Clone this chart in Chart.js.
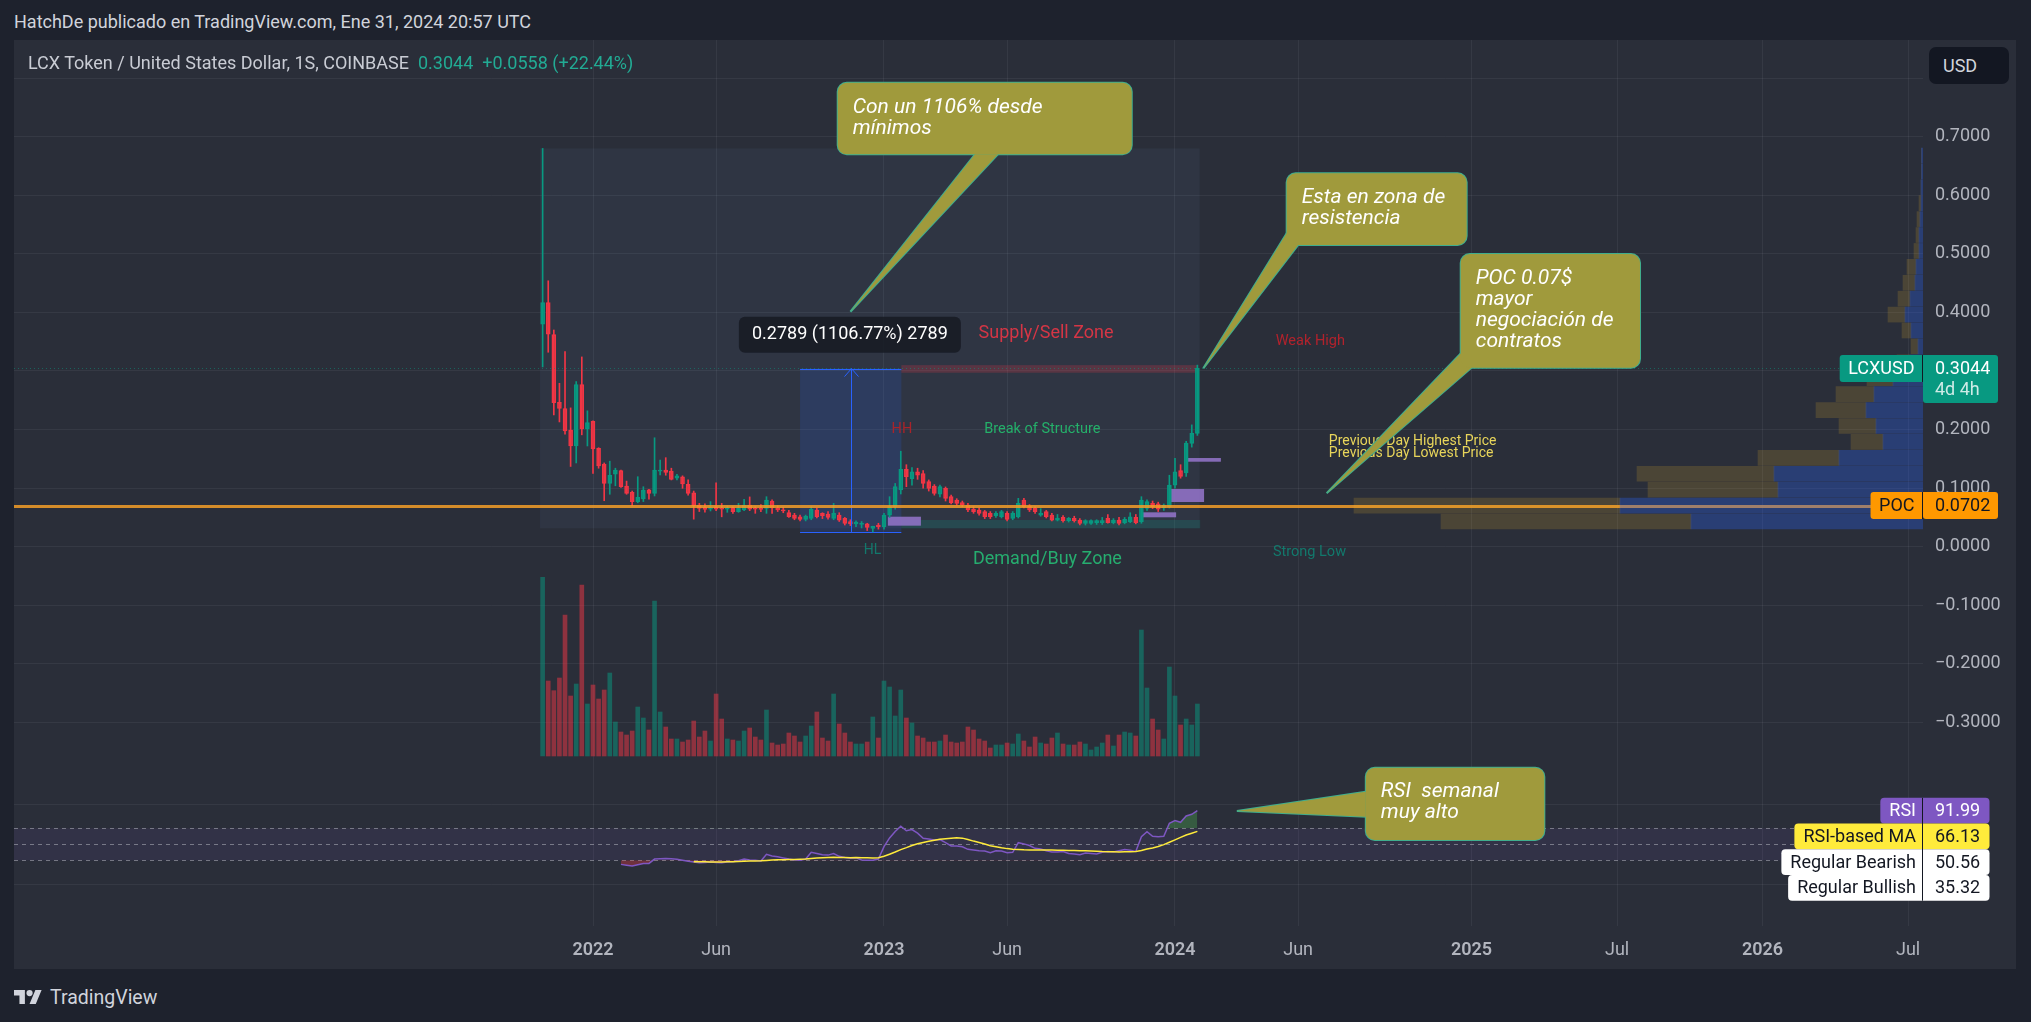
<!DOCTYPE html>
<html>
<head>
<meta charset="utf-8">
<title>LCXUSD 1S</title>
<script src="https://cdn.jsdelivr.net/npm/chart.js@4.4.1/dist/chart.umd.min.js"></script>
<style>
  html, body { margin: 0; padding: 0; }
  body { width: 2031px; height: 1022px; background: #1e222d; font-family: Roboto, sans-serif; position: relative; overflow: hidden; }
  .header { position: absolute; left: 14px; top: 10px; font-size: 18px; line-height: 24px; color: #d1d4dc; }
  .panel { position: absolute; left: 14px; top: 40px; width: 2002px; height: 929px; background: #2a2e39; }
  .panel canvas { position: absolute; left: 0; top: 0; }
  .legend { position: absolute; left: 14px; top: 11px; font-size: 18px; line-height: 24px; color: #c9ccd4; white-space: nowrap; }
  .legend .val { color: #22ab94; margin-left: 9px; }
  .usd { position: absolute; left: 1915px; top: 7px; width: 80px; height: 37px; box-sizing: border-box; padding-left: 14px;
         background: #131722; border-radius: 7px; color: #d1d4dc; font-size: 18px; line-height: 37px; }
  .footer { position: absolute; left: 14px; top: 985px; height: 24px; display: flex; align-items: center; color: #d1d4dc; font-size: 19.5px; }
  .footer svg { margin-right: 8px; }
</style>
</head>
<body>
<div class="header">HatchDe publicado en TradingView.com, Ene 31, 2024 20:57 UTC</div>
<div class="panel">
  <canvas id="chart" width="2002" height="929"></canvas>
  <canvas id="profile" width="2002" height="929"></canvas>
  <div class="legend"><span>LCX Token / United States Dollar, 1S, COINBASE</span><span class="val">0.3044</span><span class="val">+0.0558 (+22.44%)</span></div>
  <div class="usd">USD</div>
</div>
<div class="footer">
  <svg width="28" height="14" viewBox="0 4 36 18"><path fill="#d1d4dc" d="M14 22H7V11H0V4h14v18zM28 22h-8l7.5-18h8L28 22z"/><circle fill="#d1d4dc" cx="20" cy="8" r="4"/></svg>
  <span>TradingView</span>
</div>
<script>
// weekly candles, week index 0 = week of 3 Jan 2022
const firstWeek = -9;
const opens = [0.380,0.417,0.362,0.2465,0.236,0.199,0.172,0.277,0.201,
  0.214,0.168,0.141,0.108,0.124,0.130,0.1036,0.093,0.077,0.0814,
  0.097,0.091,0.129,0.131,0.129,0.117,0.1195,0.1065,0.092,0.071,
  0.0673,0.064,0.068,0.0655,0.064,0.0666,0.0598,0.0627,0.071,0.066,
  0.066,0.0655,0.078,0.066,0.063,0.0581,0.054,0.0512,0.0467,0.0484,
  0.0627,0.0570,0.0558,0.0484,0.054,0.0484,0.0427,0.0387,0.0380,0.039,
  0.031,0.037,0.0342,0.054,0.0683,0.0968,0.132,0.116,0.128,0.125,
  0.111,0.1036,0.0895,0.0997,0.0854,0.0797,0.0752,0.0712,0.0644,0.0627,
  0.0598,0.057,0.0524,0.0512,0.057,0.0484,0.0512,0.0797,0.0695,0.0655,
  0.0540,0.0598,0.054,0.0455,0.050,0.0444,0.0484,0.0455,0.0399,0.0399,
  0.041,0.0410,0.0484,0.041,0.0455,0.041,0.0427,0.050,0.0427,0.0655,
  0.074,0.073,0.066,0.068,0.105,0.130,0.126,0.1765,0.1935];
const highs = [0.680,0.454,0.370,0.279,0.333,0.237,0.282,0.324,0.232,
  0.215,0.169,0.143,0.146,0.134,0.131,0.112,0.095,0.1195,0.1024,
  0.098,0.186,0.148,0.152,0.134,0.1236,0.121,0.114,0.095,0.074,
  0.0734,0.077,0.109,0.074,0.0695,0.068,0.074,0.081,0.085,0.068,
  0.072,0.0854,0.080,0.070,0.067,0.062,0.057,0.054,0.054,0.0683,
  0.066,0.058,0.060,0.074,0.058,0.050,0.046,0.044,0.043,0.040,
  0.035,0.040,0.057,0.0854,0.108,0.163,0.140,0.135,0.134,0.130,
  0.114,0.106,0.105,0.102,0.088,0.082,0.078,0.074,0.068,0.066,
  0.062,0.060,0.060,0.062,0.060,0.060,0.0826,0.0826,0.072,0.068,
  0.065,0.062,0.057,0.055,0.053,0.050,0.052,0.048,0.046,0.046,
  0.046,0.050,0.055,0.048,0.050,0.050,0.058,0.055,0.0854,0.080,
  0.078,0.076,0.073,0.122,0.151,0.140,0.180,0.208,0.310];
const lows = [0.307,0.332,0.225,0.213,0.192,0.137,0.143,0.191,0.172,
  0.125,0.134,0.0785,0.0895,0.104,0.101,0.0895,0.070,0.075,0.077,
  0.081,0.0866,0.1224,0.122,0.114,0.114,0.0997,0.088,0.047,0.060,
  0.0588,0.061,0.0615,0.051,0.0587,0.057,0.0587,0.0615,0.0615,0.057,
  0.060,0.057,0.057,0.060,0.058,0.050,0.046,0.044,0.044,0.046,
  0.049,0.048,0.047,0.046,0.043,0.037,0.036,0.034,0.032,0.0275,
  0.0252,0.030,0.030,0.050,0.064,0.090,0.1025,0.105,0.115,0.100,
  0.095,0.088,0.085,0.078,0.073,0.071,0.068,0.060,0.057,0.054,
  0.048,0.048,0.050,0.049,0.044,0.046,0.049,0.066,0.060,0.057,
  0.052,0.049,0.044,0.044,0.042,0.042,0.042,0.037,0.037,0.038,
  0.038,0.038,0.040,0.039,0.037,0.039,0.041,0.039,0.040,0.062,
  0.065,0.060,0.062,0.066,0.100,0.117,0.120,0.170,0.190];
const closes = [0.417,0.363,0.246,0.236,0.1975,0.172,0.277,0.201,0.212,
  0.167,0.138,0.108,0.122,0.131,0.1025,0.091,0.077,0.0843,0.0968,
  0.091,0.131,0.131,0.127,0.115,0.121,0.107,0.091,0.0695,0.0655,
  0.0638,0.067,0.064,0.064,0.066,0.0598,0.0655,0.071,0.064,0.064,
  0.0635,0.0797,0.066,0.063,0.061,0.0512,0.0484,0.0467,0.0524,0.0638,
  0.0512,0.0530,0.050,0.057,0.0455,0.0399,0.0387,0.0420,0.0400,0.0330,
  0.0347,0.0342,0.054,0.0683,0.1025,0.132,0.1195,0.128,0.122,0.108,
  0.0997,0.091,0.1025,0.0826,0.0752,0.074,0.0712,0.0627,0.0598,0.057,
  0.0512,0.0512,0.057,0.0598,0.0467,0.057,0.074,0.0683,0.0627,0.0598,
  0.0570,0.0512,0.0455,0.0490,0.0444,0.0484,0.0444,0.0399,0.0444,0.0444,
  0.0444,0.0445,0.041,0.0455,0.0399,0.0467,0.0512,0.041,0.0797,0.0769,
  0.068,0.064,0.071,0.105,0.128,0.120,0.177,0.1935,0.3044];
// volume, millions of LCX
const volumes = [5.36,2.25,1.96,2.34,4.23,1.80,2.16,5.13,1.56,
  2.13,1.71,1.98,2.49,1.02,0.72,0.63,0.75,1.47,1.14,
  0.78,4.65,1.32,0.87,0.51,0.51,0.42,0.48,1.05,0.57,
  0.75,0.45,1.86,1.11,0.51,0.48,0.45,0.75,0.84,0.57,
  0.48,1.38,0.39,0.33,0.36,0.69,0.60,0.42,0.60,0.90,
  1.32,0.54,0.45,1.86,0.96,0.69,0.42,0.36,0.36,0.42,
  1.17,0.54,2.25,2.07,1.20,1.98,1.14,0.99,0.60,0.54,
  0.42,0.42,0.45,0.63,0.42,0.39,0.42,0.87,0.78,0.51,
  0.45,0.24,0.33,0.33,0.39,0.36,0.66,0.45,0.27,0.57,
  0.39,0.36,0.54,0.69,0.36,0.33,0.33,0.42,0.36,0.18,
  0.27,0.39,0.63,0.30,0.63,0.72,0.69,0.60,3.78,2.04,
  1.11,0.78,0.51,2.67,1.80,0.93,1.11,0.93,1.56];
// RSI 14 (weekly) and its SMA 14
const rsiStart = 5;
const rsiValues = [24.9,23.8,22.8,24.5,26.1,26.1,31.5,32.0,32.4,31.8,
  31.2,30.0,28.8,28.0,27.0,27.2,27.8,27.3,27.0,28.0,
  28.3,29.5,31.5,30.5,30.0,29.0,37.5,35.5,34.5,33.0,
  31.5,30.5,30.0,31.5,40.0,38.5,37.0,36.5,38.5,35.0,
  33.5,32.5,33.0,30.5,30.0,30.0,31.5,47.0,58.0,66.0,
  72.7,66.9,68.5,64.0,57.5,56.5,55.4,56.0,52.0,47.9,
  48.0,47.0,43.7,43.0,42.0,41.5,39.6,42.0,41.5,39.5,
  40.0,52.0,50.5,48.5,45.0,44.0,42.0,40.5,40.5,41.0,
  38.5,38.0,37.0,39.0,38.5,38.0,40.0,41.0,40.5,42.0,
  43.5,42.5,41.0,59.6,65.8,60.0,59.5,60.0,76.3,79.6,
  77.5,85.4,87.5,91.99];
const rsiMaStart = 18;
const rsiMaValues = [28.3,28.2,28.1,28.0,28.0,28.0,28.1,28.3,28.5,28.7,
  29.0,29.2,29.3,29.9,30.3,30.6,30.8,31.0,31.1,31.3,
  31.6,32.3,32.8,33.2,33.5,33.8,33.6,33.4,33.3,33.4,
  33.2,33.1,33.0,33.2,35.0,37.6,40.3,43.3,45.8,48.5,
  50.6,52.3,53.7,55.0,56.2,57.0,57.6,58.3,57.7,56.0,
  54.0,52.2,50.4,48.3,47.0,45.6,44.6,43.8,43.4,43.1,
  43.0,42.9,42.9,42.9,42.8,42.7,42.5,42.3,42.1,42.0,
  41.8,41.5,41.2,40.9,40.8,40.6,40.5,40.6,40.7,40.9,
  42.2,44.0,45.5,47.3,49.6,52.6,55.6,58.6,61.6,63.8,
  66.13];
const rsiLabels = ['RSI', 'RSI-based MA', 'Regular Bearish', 'Regular Bullish'];
const rsiLabelValues = [91.99, 66.13, 50.56, 35.32];
// visible range volume profile, 24 rows
const profileLow = 0.0295;
const profileStep = 0.02717;
const profileUp = [23.2,30.3,14.5,14.9,8.4,4.0,4.7,5.7,4.9,3.0,1.3,0.5,1.2,1.8,1.3,0.8,0.7,0.4,0.4,0.3,0.2,0.2,0.15,0.15];
const profileDown = [25.0,26.6,13.0,13.7,8.1,3.2,3.7,5.0,3.8,2.6,1.3,0.7,0.9,1.7,1.2,1.2,0.9,0.5,0.3,0.3,0.2,0,0,0];
const pocPrice = 0.0702;
// axes
const tickWeeks = [0, 22, 52, 74, 104, 126, 157, 183, 209, 235];
const tickLabels = ['2022', 'Jun', '2023', 'Jun', '2024', 'Jun', '2025', 'Jul', '2026', 'Jul'];
const priceTicks = [-0.3, -0.2, -0.1, 0, 0.1, 0.2, 0.3, 0.4, 0.5, 0.6, 0.7, 0.8];

// ---- layout (pixels inside the panel) ----
const W = 2002, H = 929, AXIS_W = 93, AXIS_H = 43;
const PLOT_W = W - AXIS_W, PLOT_H = H - AXIS_H;
const WEEK_PX = 5.596, WEEK0_X = 579;
const xMin = -WEEK0_X / WEEK_PX, xMax = (PLOT_W - WEEK0_X) / WEEK_PX;
const PRICE0_Y = 506.7, PRICE_PX = 585.7;
const yMin = (PRICE0_Y - PLOT_H) / PRICE_PX, yMax = PRICE0_Y / PRICE_PX;
const VOL0_Y = 716, VOL_PX = 33.33;
const volMin = -(PLOT_H - VOL0_Y) / VOL_PX, volMax = VOL0_Y / VOL_PX;
const RSI50_Y = 804.3, RSI_PX = 0.8;
const rsiMin = 50 - (PLOT_H - RSI50_Y) / RSI_PX, rsiMax = 50 + RSI50_Y / RSI_PX;

const UP = '#089981', DOWN = '#f23645';
const gridColor = 'rgba(240,243,250,0.06)';
const lastClose = closes[closes.length - 1];

// ---- drawings, in chart coordinates (week, price) ----
const rangeBox = { w: [-9.47, 108.4], p: [0.0314, 0.68] };
const measure = { w: [37, 55.1], p: [0.0252, 0.3041], mid: 46.05, label: '0.2789 (1106.77%) 2789', at: [45.9, 0.362] };
const supply = { w: [55.1, 108.1], p: [0.297, 0.310] };
const demand = { w: [55.1, 108.5], p: [0.0314, 0.0456] };
const orderBlocks = [[52.7, 58.6, 0.0359, 0.0512], [98.2, 104.2, 0.0502, 0.0587], [103.2, 109.2, 0.0763, 0.0985], [106.1, 112.2, 0.1451, 0.1514]];
const notes = [
  { t: 'Supply/Sell Zone', w: 68.9, p: 0.3643, size: 18, color: 'rgba(242,54,69,0.85)' },
  { t: 'Demand/Buy Zone', w: 67.9, p: -0.0215, size: 18, color: '#26ad6f' },
  { t: 'Break of Structure', w: 69.9, p: 0.201, size: 14.5, color: '#25b06a' },
  { t: 'HH', w: 53.36, p: 0.201, size: 14.5, color: '#a8242a' },
  { t: 'HL', w: 48.4, p: -0.0065, size: 14, color: 'rgba(8,153,129,0.7)' },
  { t: 'Weak High', w: 122, p: 0.350, size: 14.5, color: '#b2222c' },
  { t: 'Strong Low', w: 121.5, p: -0.009, size: 14.5, color: 'rgba(8,153,129,0.7)' },
  { t: 'Previous Day Highest Price', w: 131.5, p: 0.1793, size: 14, color: '#e8d55a' },
  { t: 'Previous Day Lowest Price', w: 131.5, p: 0.1595, size: 14, color: '#e8d55a' }
];
const callouts = [
  { pane: 'y', box: [43.73, 96.27, 0.792, 0.670], tip: [46.0, 0.4012], base: [[68.26, 0.670], [72.37, 0.670]], lines: ['Con un 1106% desde', 'mínimos'] },
  { pane: 'y', box: [123.96, 156.12, 0.6375, 0.5151], tip: [109.06, 0.3046], base: [[123.96, 0.535], [126.0, 0.5151]], lines: ['Esta en zona de', 'resistencia'] },
  { pane: 'y', box: [155.06, 187.1, 0.4997, 0.3056], tip: [131.1, 0.0912], base: [[155.06, 0.330], [157.0, 0.3056]], lines: ['POC 0.07$', 'mayor', 'negociación de', 'contratos'] },
  { pane: 'yRsi', box: [138.1, 170.0, 145.75, 55.4], tip: [115.06, 91.6], base: [[138.1, 115.75], [138.1, 84.5]], lines: ['RSI  semanal', 'muy alto'] }
];

const weeks = closes.map((c, i) => firstWeek + i);
const isUp = closes.map((c, i) => c >= opens[i]);

function hline(ctx, x1, x2, y) {
  y = Math.round(y) + 0.5;
  ctx.beginPath(); ctx.moveTo(x1, y); ctx.lineTo(x2, y); ctx.stroke();
}

function drawCallout(ctx, c, X, V) {
  const x1 = X(c.box[0]), x2 = X(c.box[1]), y1 = V(c.box[2]), y2 = V(c.box[3]);
  const tip = [X(c.tip[0]), V(c.tip[1])];
  const b = c.base.map(pt => [X(pt[0]), V(pt[1])]);
  const tri = () => { ctx.beginPath(); ctx.moveTo(b[0][0], b[0][1]); ctx.lineTo(tip[0], tip[1]); ctx.lineTo(b[1][0], b[1][1]); ctx.closePath(); };
  const rect = () => { ctx.beginPath(); ctx.roundRect(x1, y1, x2 - x1, y2 - y1, 9); };
  ctx.strokeStyle = '#3fae8e'; ctx.lineWidth = 2;
  tri(); ctx.stroke(); rect(); ctx.stroke();
  ctx.fillStyle = '#a09a3c';
  tri(); ctx.fill(); rect(); ctx.fill();
  ctx.fillStyle = '#ffffff';
  ctx.font = 'italic 21px Roboto';
  ctx.textAlign = 'left'; ctx.textBaseline = 'middle';
  c.lines.forEach((ln, i) => ctx.fillText(ln, x1 + 15, y1 + 24.5 + i * 21));
}

const drawings = {
  id: 'drawings',
  beforeDatasetsDraw(chart) {
    const { ctx, chartArea: a } = chart;
    const X = v => chart.scales.x.getPixelForValue(v);
    const Y = v => chart.scales.y.getPixelForValue(v);
    const R = v => chart.scales.yRsi.getPixelForValue(v);
    const rect = (w1, w2, p1, p2, s) => ctx.fillRect(X(w1), s(p2), X(w2) - X(w1), s(p1) - s(p2));
    ctx.save();
    // RSI pane
    ctx.strokeStyle = gridColor; ctx.lineWidth = 1;
    [0, 100].forEach(v => hline(ctx, a.left, a.right, R(v)));
    ctx.fillStyle = 'rgba(126,87,194,0.1)';
    ctx.fillRect(a.left, R(70), a.right - a.left, R(30) - R(70));
    ctx.strokeStyle = 'rgba(178,181,190,0.55)'; ctx.setLineDash([4, 4]);
    [70, 50, 30].forEach(v => hline(ctx, a.left, a.right, R(v)));
    ctx.setLineDash([]);
    // zones
    ctx.fillStyle = 'rgba(120,150,210,0.07)';
    rect(rangeBox.w[0], rangeBox.w[1], rangeBox.p[0], rangeBox.p[1], Y);
    ctx.fillStyle = 'rgba(41,98,255,0.15)';
    rect(measure.w[0], measure.w[1], measure.p[0], measure.p[1], Y);
    ctx.strokeStyle = '#2962ff';
    [measure.p[0], measure.p[1]].forEach(p => hline(ctx, X(measure.w[0]), X(measure.w[1]), Y(p)));
    ctx.fillStyle = 'rgba(242,54,69,0.22)';
    rect(supply.w[0], supply.w[1], supply.p[0], supply.p[1], Y);
    ctx.fillStyle = 'rgba(8,153,129,0.2)';
    rect(demand.w[0], demand.w[1], demand.p[0], demand.p[1], Y);
    ctx.fillStyle = 'rgba(149,117,205,0.85)';
    orderBlocks.forEach(ob => rect(ob[0], ob[1], ob[2], ob[3], Y));
    ctx.restore();
  },
  afterDatasetsDraw(chart) {
    const { ctx, chartArea: a } = chart;
    const X = v => chart.scales.x.getPixelForValue(v);
    const Y = v => chart.scales.y.getPixelForValue(v);
    const R = v => chart.scales.yRsi.getPixelForValue(v);
    ctx.save();
    // last price line
    ctx.strokeStyle = 'rgba(8,153,129,0.5)'; ctx.lineWidth = 1; ctx.setLineDash([1, 3]);
    hline(ctx, a.left, a.right, Y(lastClose));
    ctx.setLineDash([]);
    // price range arrow + label
    const mx = Math.round(X(measure.mid)) + 0.5, top = Y(measure.p[1]);
    ctx.strokeStyle = '#2962ff';
    ctx.beginPath(); ctx.moveTo(mx, Y(measure.p[0])); ctx.lineTo(mx, top); ctx.stroke();
    ctx.beginPath(); ctx.moveTo(mx - 7, top + 8); ctx.lineTo(mx, top); ctx.lineTo(mx + 7, top + 8); ctx.stroke();
    const lx = X(measure.at[0]), ly = Y(measure.at[1]);
    ctx.fillStyle = 'rgba(24,27,36,0.88)';
    ctx.beginPath(); ctx.roundRect(lx - 111, ly - 18, 222, 36, 6); ctx.fill();
    ctx.fillStyle = '#ffffff'; ctx.font = '18px Roboto';
    ctx.textAlign = 'center'; ctx.textBaseline = 'middle';
    ctx.fillText(measure.label, lx, ly);
    // text notes
    ctx.textAlign = 'left';
    notes.forEach(n => {
      ctx.font = n.size + 'px Roboto'; ctx.fillStyle = n.color;
      ctx.fillText(n.t, X(n.w), Y(n.p));
    });
    callouts.forEach(c => drawCallout(ctx, c, X, c.pane === 'y' ? Y : R));
    ctx.restore();
  },
  afterDraw(chart) {
    const { ctx, chartArea: a } = chart;
    const R = v => chart.scales.yRsi.getPixelForValue(v);
    const bg = ['#7e57c2', '#ffeb3b', '#ffffff', '#ffffff'];
    const fg = ['#ffffff', '#131722', '#131722', '#131722'];
    const h = 25.7, y0 = R(rsiLabelValues[0]) - h / 2, ax = a.right;
    ctx.save();
    ctx.font = '18px Roboto'; ctx.textBaseline = 'middle';
    rsiLabels.forEach((lab, i) => {
      const y = y0 + i * h, tw = ctx.measureText(lab).width;
      const bx = ax - tw - 16;
      ctx.fillStyle = bg[i];
      ctx.beginPath(); ctx.roundRect(bx, y, ax + 66.5 - bx, h, 4); ctx.fill();
      ctx.fillStyle = fg[i];
      ctx.textAlign = 'right'; ctx.fillText(lab, ax - 7, y + h / 2 + 1);
      ctx.textAlign = 'left'; ctx.fillText(rsiLabelValues[i].toFixed(2), ax + 12, y + h / 2 + 1);
    });
    ctx.strokeStyle = '#131722'; ctx.lineWidth = 1;
    ctx.beginPath(); ctx.moveTo(ax - 0.5, y0); ctx.lineTo(ax - 0.5, y0 + h * rsiLabels.length); ctx.stroke();
    ctx.restore();
  }
};

Chart.defaults.font.family = 'Roboto';
Chart.defaults.color = '#b2b5be';

const main = new Chart(document.getElementById('chart'), {
  type: 'bar',
  data: {
    datasets: [
      { type: 'bar', label: 'Volume', yAxisID: 'yVol', order: 5, grouped: false, barThickness: 4,
        data: weeks.map((w, i) => ({ x: w, y: volumes[i] })),
        backgroundColor: isUp.map(u => u ? 'rgba(8,153,129,0.5)' : 'rgba(242,54,69,0.5)') },
      { type: 'bar', label: 'Wick', yAxisID: 'y', order: 4, grouped: false, barThickness: 1,
        data: weeks.map((w, i) => ({ x: w, y: [lows[i], highs[i]] })),
        backgroundColor: isUp.map(u => u ? UP : DOWN) },
      { type: 'bar', label: 'Body', yAxisID: 'y', order: 3, grouped: false, barThickness: 4, minBarLength: 1,
        data: weeks.map((w, i) => ({ x: w, y: [opens[i], closes[i]] })),
        backgroundColor: isUp.map(u => u ? 'rgba(8,153,129,0.45)' : 'rgba(242,54,69,0.45)'),
        borderColor: isUp.map(u => u ? UP : DOWN), borderWidth: 1, borderSkipped: false },
      { type: 'line', label: 'RSI', yAxisID: 'yRsi', order: 2, pointRadius: 0, borderWidth: 1.5, borderColor: '#7e57c2',
        data: rsiValues.map((v, i) => ({ x: rsiStart + i, y: v })),
        fill: { target: { value: 70 }, above: 'rgba(76,175,80,0.35)', below: 'rgba(0,0,0,0)' } },
      { type: 'line', label: 'RSI oversold', yAxisID: 'yRsi', order: 2, pointRadius: 0, borderWidth: 0, borderColor: 'rgba(0,0,0,0)',
        data: rsiValues.map((v, i) => ({ x: rsiStart + i, y: v })),
        fill: { target: { value: 30 }, above: 'rgba(0,0,0,0)', below: 'rgba(242,54,69,0.35)' } },
      { type: 'line', label: 'RSI-based MA', yAxisID: 'yRsi', order: 1, pointRadius: 0, borderWidth: 1.5, borderColor: '#ffeb3b', fill: false,
        data: rsiMaValues.map((v, i) => ({ x: rsiMaStart + i, y: v })) }
    ]
  },
  options: {
    responsive: false,
    animation: false,
    plugins: { legend: { display: false }, tooltip: { enabled: false } },
    scales: {
      x: {
        type: 'linear', min: xMin, max: xMax, offset: false,
        afterBuildTicks: s => { s.ticks = tickWeeks.map(v => ({ value: v })); },
        afterFit: s => { s.height = AXIS_H; s.paddingLeft = 0; s.paddingRight = 0; },
        grid: { color: gridColor, drawTicks: false, offset: false },
        border: { display: false },
        ticks: {
          autoSkip: false, maxRotation: 0, padding: 14, color: '#b2b5be',
          font: ctx => ({ size: 18, weight: /^\d/.test(tickLabels[ctx.index]) ? '600' : '400' }),
          callback: (v, i) => tickLabels[i]
        }
      },
      y: {
        type: 'linear', position: 'right', min: yMin, max: yMax,
        afterBuildTicks: s => { s.ticks = priceTicks.map(v => ({ value: v })); },
        afterFit: s => { s.width = AXIS_W; s.paddingTop = 0; s.paddingBottom = 0; },
        grid: { color: gridColor, drawTicks: false },
        border: { display: false },
        ticks: {
          autoSkip: false, padding: 12, color: '#b2b5be', font: { size: 18 },
          // labels that collide with the top edge or the last-price tag are hidden
          callback: v => (v > 0.75 || Math.abs(v - lastClose) < 0.03) ? '' :
            (v < 0 ? '\u2212' + Math.abs(v).toFixed(4) : v.toFixed(4))
        }
      },
      yVol: { type: 'linear', display: false, min: volMin, max: volMax },
      yRsi: { type: 'linear', display: false, min: rsiMin, max: rsiMax }
    }
  },
  plugins: [drawings]
});

// volume profile on its own layer, sharing the price scale
const rowCenters = profileUp.map((v, i) => profileLow + (i + 0.5) * profileStep);
const profileLabels = {
  id: 'profileLabels',
  beforeDatasetsDraw(chart) {
    const { ctx, chartArea: a } = chart;
    const y = Math.round(chart.scales.y.getPixelForValue(pocPrice)) + 0.5;
    ctx.save();
    ctx.strokeStyle = 'rgba(242,156,40,0.85)'; ctx.lineWidth = 3;
    ctx.beginPath(); ctx.moveTo(a.left, y); ctx.lineTo(a.right, y); ctx.stroke();
    ctx.restore();
  },
  afterDraw(chart) {
    const { ctx, chartArea: a } = chart;
    const ax = a.right;
    const tag = (name, price, bg, fg, extra) => {
      const y = chart.scales.y.getPixelForValue(price);
      ctx.font = '18px Roboto';
      const tw = ctx.measureText(name).width;
      ctx.fillStyle = bg;
      ctx.beginPath(); ctx.roundRect(ax - tw - 17, y - 13.5, tw + 17, 27, [3, 0, 0, 3]); ctx.fill();
      ctx.beginPath(); ctx.roundRect(ax, y - 13.5, 75, extra ? 48 : 27, [0, 3, 3, 3]); ctx.fill();
      ctx.strokeStyle = '#131722'; ctx.lineWidth = 1;
      ctx.beginPath(); ctx.moveTo(ax - 0.5, y - 13.5); ctx.lineTo(ax - 0.5, y + 13.5); ctx.stroke();
      ctx.fillStyle = fg; ctx.textBaseline = 'middle';
      ctx.textAlign = 'center'; ctx.fillText(name, ax - (tw + 17) / 2, y + 1);
      ctx.textAlign = 'left'; ctx.fillText(price.toFixed(4), ax + 12, y + 1);
      if (extra) { ctx.fillStyle = 'rgba(255,255,255,0.8)'; ctx.fillText(extra, ax + 12, y + 22.5); }
    };
    ctx.save();
    tag('LCXUSD', lastClose, UP, '#ffffff', '4d 4h');
    tag('POC', pocPrice, '#ff9800', '#131722');
    ctx.restore();
  }
};

new Chart(document.getElementById('profile'), {
  type: 'bar',
  data: {
    datasets: [
      { label: 'Up volume', grouped: false, barThickness: 15, backgroundColor: 'rgba(41,98,255,0.3)',
        data: rowCenters.map((c, i) => ({ y: c, x: [0, profileUp[i]] })) },
      { label: 'Down volume', grouped: false, barThickness: 15, backgroundColor: 'rgba(251,192,45,0.16)',
        data: rowCenters.map((c, i) => ({ y: c, x: [profileUp[i], profileUp[i] + profileDown[i]] })) }
    ]
  },
  options: {
    indexAxis: 'y',
    responsive: false,
    animation: false,
    layout: { padding: { right: AXIS_W, bottom: AXIS_H } },
    plugins: { legend: { display: false }, tooltip: { enabled: false } },
    scales: {
      x: { type: 'linear', reverse: true, min: 0, max: PLOT_W / 10, display: false, offset: false },
      y: { type: 'linear', min: yMin, max: yMax, display: false, offset: false }
    }
  },
  plugins: [profileLabels]
});
</script>
</body>
</html>
